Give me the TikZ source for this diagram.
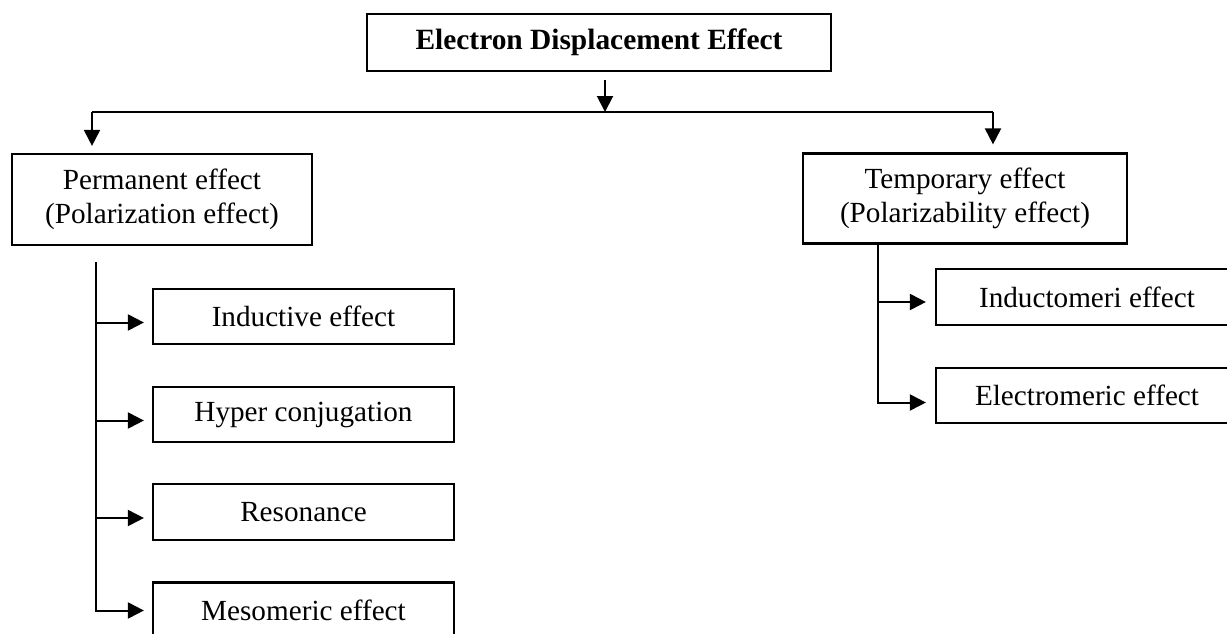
\documentclass[tikz,border=0pt]{standalone}
\usepackage{fontspec}
\setmainfont{Liberation Serif}
\usepackage{tikz}
\usetikzlibrary{arrows.meta, positioning}

\begin{document}
\begin{tikzpicture}[x=0.5pt, y=-0.5pt, line width=1pt,
  box/.style={draw, line width=1.1pt, align=center, inner sep=0pt,
    font=\fontsize{14.6}{17}\selectfont},
  arr/.style={-{Triangle[length=8pt, width=8pt]}}]
  \path[use as bounding box, clip] (0,0) rectangle (1227,633);

  % top and the two groups
  \node[box, minimum width=232pt, minimum height=28.5pt, font=\fontsize{14.7}{17}\selectfont\bfseries]
    (title) at (599,42.5) {Electron Displacement Effect};
  \node[box, minimum width=150pt, minimum height=45.5pt] (perm) at (162,199.5)
    {Permanent effect\\(Polarization effect)};
  \node[box, minimum width=162pt, minimum height=45pt] (temp) at (965,198.5)
    {Temporary effect\\(Polarizability effect)};

  % permanent effect branches
  \node[box, minimum width=150.5pt, minimum height=27.5pt] (induct) at (303.5,316.5) {Inductive effect};
  \node[box, minimum width=150.5pt, minimum height=27.5pt] (hyper) at (303.5,414.5) {Hyper conjugation};
  \node[box, minimum width=150.5pt, minimum height=28pt] (reson) at (303.5,512) {Resonance};
  \node[box, minimum width=150.5pt, minimum height=28pt] (meso) at (303.5,610.5) {Mesomeric effect};

  % temporary effect branches
  \node[box, minimum width=151pt, minimum height=28pt] (inductom) at (1087,297) {Inductomeri effect};
  \node[box, minimum width=151pt, minimum height=27.5pt] (electro) at (1087,395.5) {Electromeric effect};

  \coordinate (hl) at (92,112);
  \coordinate (hm) at (605,112);
  \coordinate (hr) at (993,112);
  \coordinate (ptop) at (96,262);
  \coordinate (ttop) at (878,243);

  \draw[arr, shorten <=4pt] (title.south -| hm) -- (hm);
  \draw (hl) -- (hr);
  \draw[arr, shorten >=3.5pt] (hl) -- (hl |- perm.north);
  \draw[arr, shorten >=4pt] (hr) -- (hr |- temp.north);

  \draw[arr, shorten >=4pt] (ptop) |- (meso.west);
  \foreach \n in {induct, hyper, reson} {
    \coordinate (\n-in) at ([yshift=-3pt]\n.west);
    \draw[arr, shorten >=4pt] (ptop |- \n-in) -- (\n-in);
  }

  \coordinate (electro-in) at ([yshift=-3.5pt]electro.west);
  \coordinate (inductom-in) at ([yshift=-2.5pt]inductom.west);
  \draw[arr, shorten >=4.5pt] (ttop) |- (electro-in);
  \draw[arr, shorten >=4.5pt] (ttop |- inductom-in) -- (inductom-in);
\end{tikzpicture}
\end{document}
